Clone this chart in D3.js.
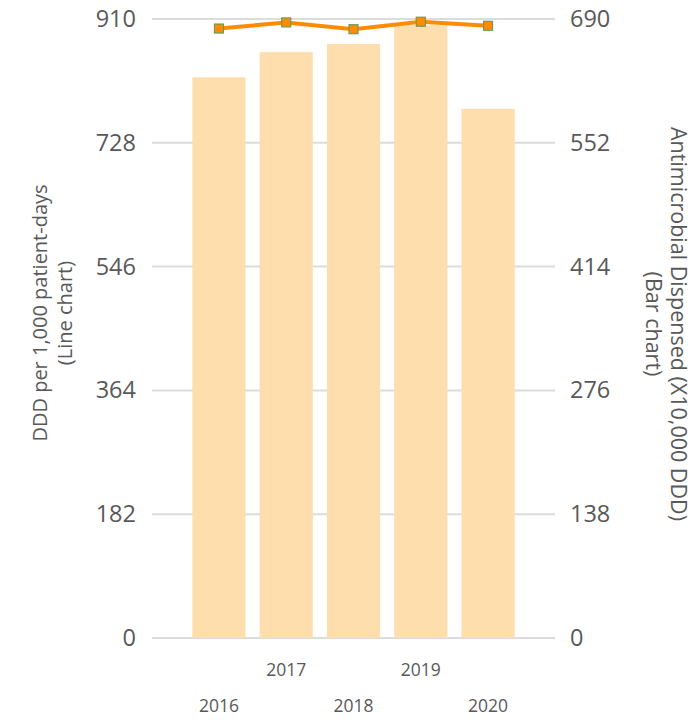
<!DOCTYPE html>
<html>
<head>
<meta charset="utf-8">
<script src="https://cdn.jsdelivr.net/npm/d3@7"></script>
<style>
  body { margin: 0; background: #fff; }
  svg text { font-family: "Open Sans", "Noto Sans", sans-serif; fill: #595959; }
</style>
</head>
<body>
<svg id="chart" width="695" height="720"></svg>
<script>
var years = ['2016', '2017', '2018', '2019', '2020'];
// bar series, right axis (X10,000 DDD)
var dispensed = [625, 653, 662, 683, 590];
// line series, left axis (DDD per 1,000 patient-days)
var dddRate = [896, 905, 895, 906, 900];
var leftTicks = [0, 182, 364, 546, 728, 910];
var rightTicks = [0, 138, 276, 414, 552, 690];

(function() {
  var svg = d3.select('#chart');
  var plotL = 152, plotR = 555, plotT = 19, plotB = 638;

  var x = d3.scaleBand().domain(years).range([plotL, plotR])
    .paddingInner(0.21).paddingOuter(0.6);
  var yL = d3.scaleLinear().domain([0, 910]).range([plotB, plotT]);
  var yR = d3.scaleLinear().domain([0, 690]).range([plotB, plotT]);

  // gridlines
  svg.append('g').selectAll('line').data(leftTicks).enter().append('line')
    .attr('x1', plotL).attr('x2', plotR)
    .attr('y1', function(d) { return yL(d); })
    .attr('y2', function(d) { return yL(d); })
    .attr('stroke', '#dcdcdc').attr('stroke-width', 2);

  // bars
  svg.append('g').selectAll('rect').data(dispensed).enter().append('rect')
    .attr('x', function(d, i) { return x(years[i]); })
    .attr('width', x.bandwidth())
    .attr('y', function(d) { return yR(d); })
    .attr('height', function(d) { return plotB - yR(d); })
    .attr('fill', '#fddeac');

  // left axis
  var axL = d3.axisLeft(yL).tickValues(leftTicks).tickSize(0).tickPadding(16);
  var gL = svg.append('g').attr('transform', 'translate(' + plotL + ',0)').call(axL);
  gL.select('.domain').remove();
  gL.selectAll('text').style('font-size', '23.5px').attr('fill', '#5f5f5f');

  // right axis
  var axR = d3.axisRight(yR).tickValues(rightTicks).tickSize(0).tickPadding(15);
  var gR = svg.append('g').attr('transform', 'translate(' + plotR + ',0)').call(axR);
  gR.select('.domain').remove();
  gR.selectAll('text').style('font-size', '23.5px').attr('fill', '#5f5f5f');

  // x labels, staggered
  svg.append('g').selectAll('text').data(years).enter().append('text')
    .attr('x', function(d) { return x(d) + x.bandwidth() / 2; })
    .attr('y', function(d, i) { return i % 2 ? 676 : 712; })
    .attr('text-anchor', 'middle')
    .style('font-size', '17.5px')
    .text(function(d) { return d; });

  // line
  var line = d3.line()
    .x(function(d, i) { return x(years[i]) + x.bandwidth() / 2; })
    .y(function(d) { return yL(d); });
  svg.append('path').datum(dddRate)
    .attr('d', line)
    .attr('fill', 'none')
    .attr('stroke', '#ff8c00')
    .attr('stroke-width', 4);

  svg.append('g').selectAll('rect').data(dddRate).enter().append('rect')
    .attr('x', function(d, i) { return x(years[i]) + x.bandwidth() / 2 - 4.5; })
    .attr('y', function(d) { return yL(d) - 4.5; })
    .attr('width', 9).attr('height', 9)
    .attr('fill', '#ff8c00')
    .attr('stroke', '#6e9a5e').attr('stroke-width', 1.2);

  // axis titles
  var tL = svg.append('text').attr('transform', 'translate(40,313) rotate(-90)')
    .attr('text-anchor', 'middle').style('font-size', '20px');
  tL.append('tspan').attr('x', 0).attr('dy', '0.35em').text('DDD per 1,000 patient-days');
  tL.append('tspan').attr('x', 0).attr('dy', '1.25em').text('(Line chart)');

  var tR = svg.append('text').attr('transform', 'translate(679,324) rotate(90)')
    .attr('text-anchor', 'middle').style('font-size', '21.5px');
  tR.append('tspan').attr('x', 0).attr('dy', '0.35em').text('Antimicrobial Dispensed (X10,000 DDD)');
  tR.append('tspan').attr('x', 0).attr('dy', '1.2em').text('(Bar chart)');
})();
</script>
</body>
</html>
